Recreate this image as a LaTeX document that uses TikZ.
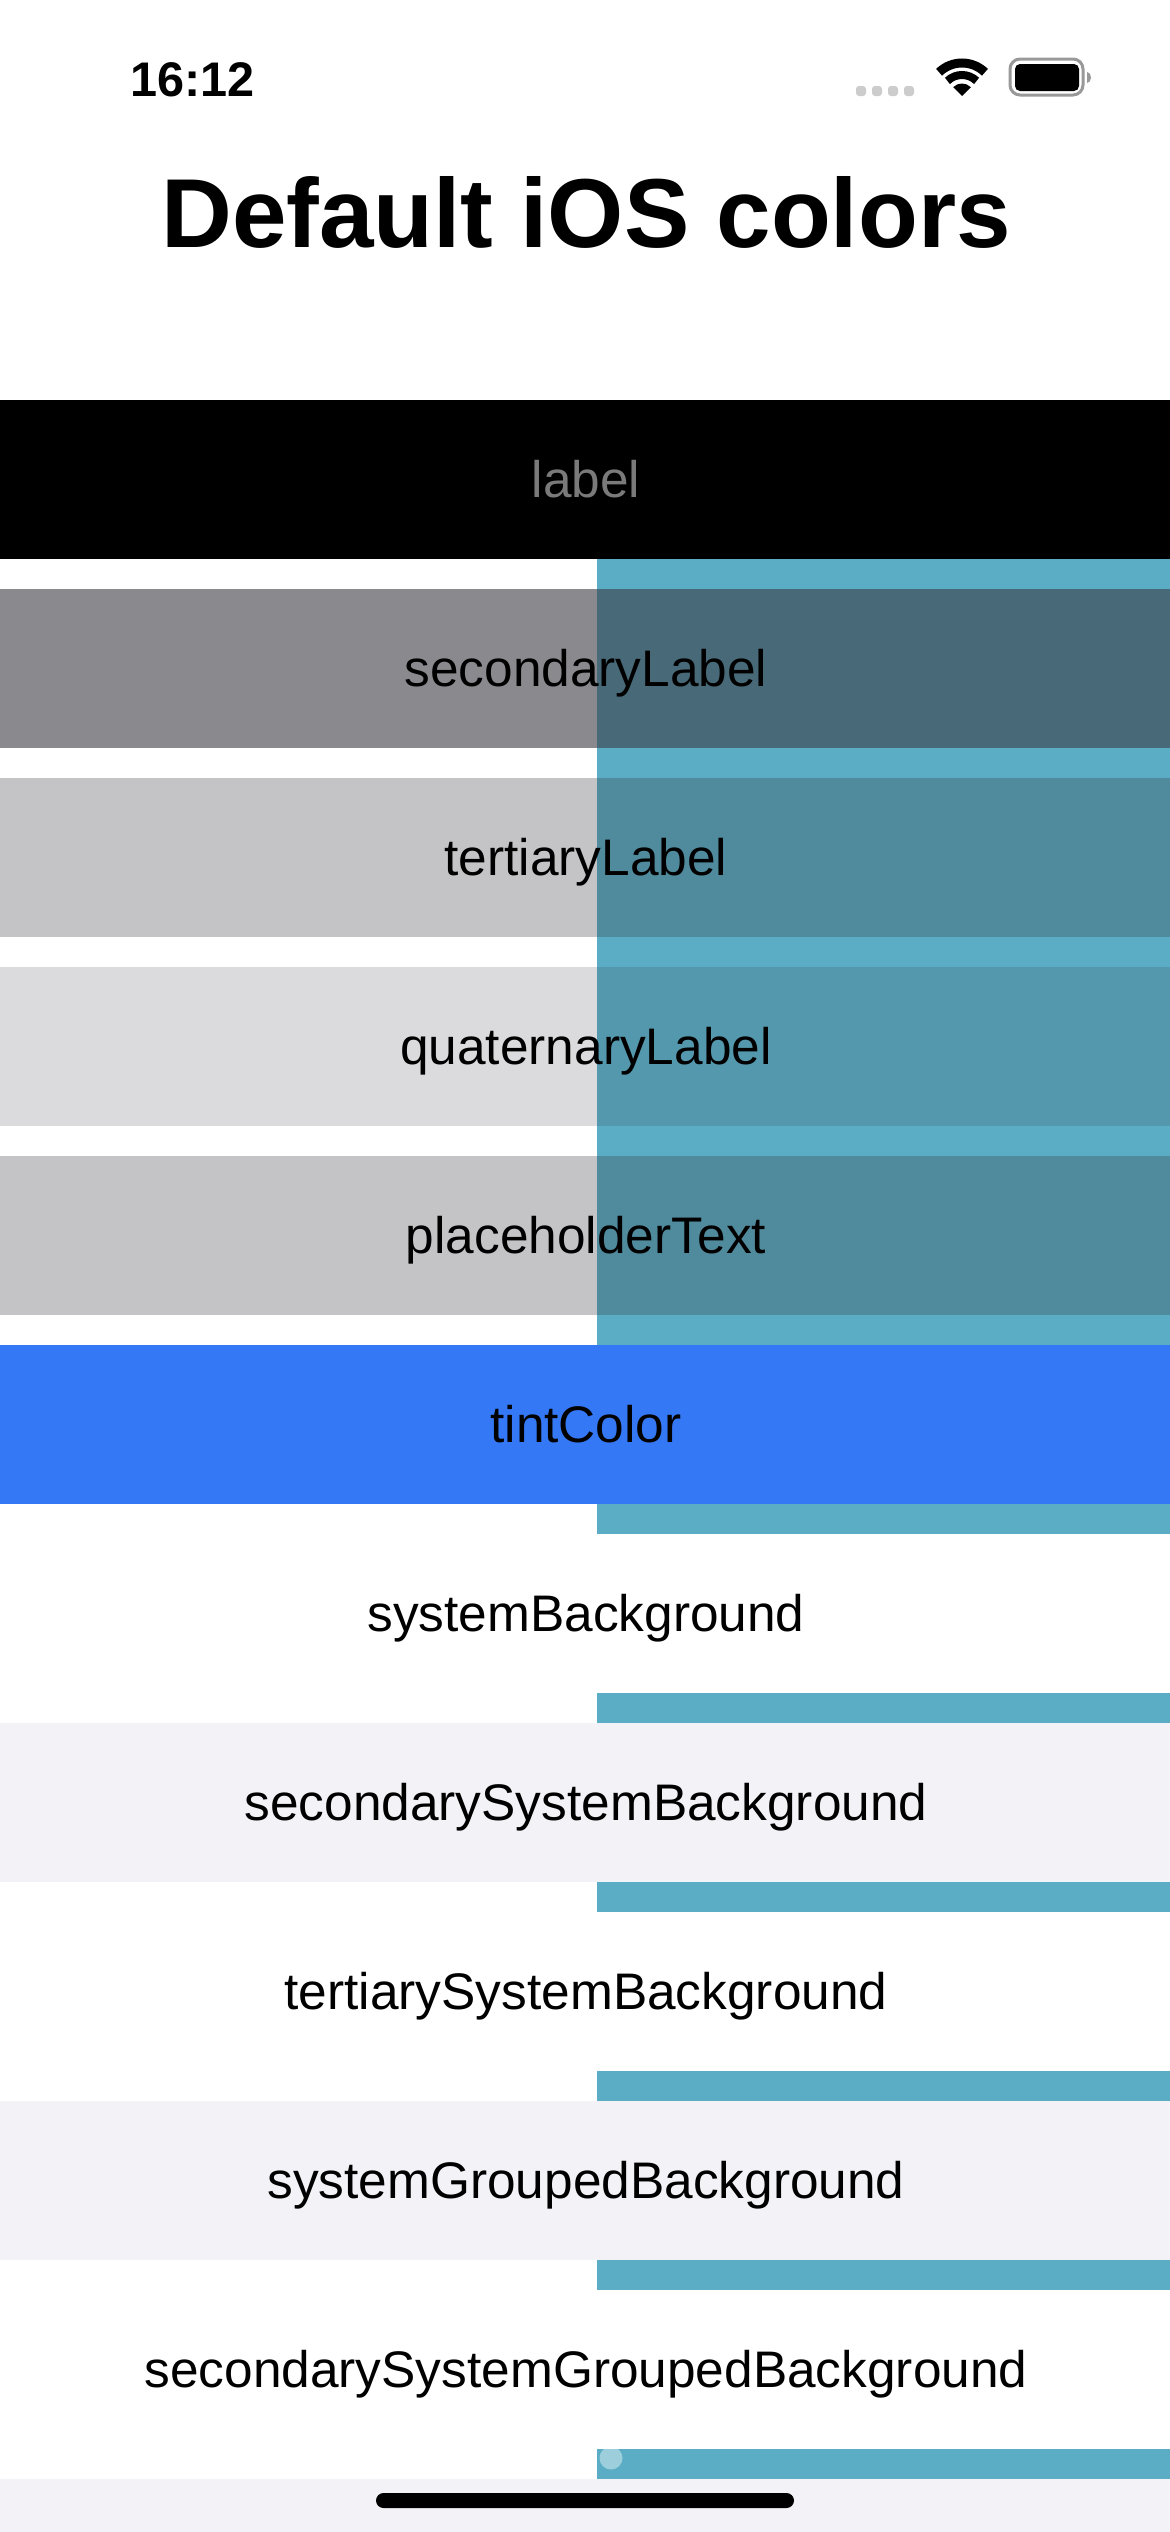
\documentclass[tikz,border=0pt]{standalone}
\usepackage{fontspec}
\setmainfont{Liberation Sans}
\usepackage{xcolor}
\usepackage{tikz}
\definecolor{tealback}{HTML}{5AADC5}
\definecolor{graytext}{HTML}{3C3C43}
\definecolor{tintblue}{HTML}{3478F6}
\definecolor{groupback}{HTML}{F2F2F7}
\definecolor{labelgray}{HTML}{7A7A7A}
\tikzset{
    rowtext/.style={anchor=base, inner sep=0pt, font=\fontsize{25.7}{30}\selectfont},
}

\begin{document}
\begin{tikzpicture}[x=0.5pt, y=-0.5pt]
    \useasboundingbox (0,0) rectangle (1170,2532);
    \fill[white] (0,0) rectangle (1170,2532);
    \fill[tealback] (597,559) rectangle (1170,2479);
    \fill[white!40!tealback] (611,2458) circle[radius=11.5];
    \fill[groupback] (0,2479) rectangle (1170,2532);

    \fill[black] (0,400) rectangle (1170,559);
    \fill[graytext, opacity=0.6] (0,589) rectangle (1170,748);
    \fill[graytext, opacity=0.3] (0,778) rectangle (1170,937);
    \fill[graytext, opacity=0.18] (0,967) rectangle (1170,1126);
    \fill[graytext, opacity=0.3] (0,1156) rectangle (1170,1315);
    \fill[tintblue] (0,1345) rectangle (1170,1504);
    \fill[white] (0,1534) rectangle (1170,1693);
    \fill[groupback] (0,1723) rectangle (1170,1882);
    \fill[white] (0,1882) rectangle (597,1912);
    \fill[white] (0,1912) rectangle (1170,2071);
    \fill[groupback] (0,2101) rectangle (1170,2260);
    \fill[white] (0,2290) rectangle (1170,2449);

    \node[rowtext, text=labelgray] (label) at (586,497) {label};
    \node[rowtext] (secondarylabel) at (586,686) {secondaryLabel};
    \node[rowtext] (tertiarylabel) at (586,875) {tertiaryLabel};
    \node[rowtext] (quaternarylabel) at (586,1064) {quaternaryLabel};
    \node[rowtext] (placeholdertext) at (586,1253) {placeholderText};
    \node[rowtext] (tintcolor) at (586,1442) {tintColor};
    \node[rowtext] (systembackground) at (586,1631) {systemBackground};
    \node[rowtext] (secondarysystem) at (586,1820) {secondarySystemBackground};
    \node[rowtext] (tertiarysystem) at (586,2009) {tertiarySystemBackground};
    \node[rowtext] (groupedsystem) at (586,2198) {systemGroupedBackground};
    \node[rowtext] (secondarygrouped) at (586,2387) {secondarySystemGroupedBackground};

    \node[anchor=base, inner sep=0pt, font=\fontsize{49}{60}\selectfont\bfseries] (title) at (586,247) {Default iOS colors};
    \node[anchor=base west, inner sep=0pt, font=\fontsize{24.3}{30}\selectfont\bfseries] (clock) at (130,96) {16:12};

    % status bar
    \fill[gray!40, rounded corners=1.5pt] (856,86) rectangle (866,96);
    \fill[gray!40, rounded corners=1.5pt] (872,86) rectangle (882,96);
    \fill[gray!40, rounded corners=1.5pt] (888,86) rectangle (898,96);
    \fill[gray!40, rounded corners=1.5pt] (904,86) rectangle (914,96);
    \coordinate (wifi) at (962,96);
    \fill[black] (wifi) -- ++(45:6.25pt) arc (45:135:6.25pt) -- cycle;
    \draw[line width=4pt] (wifi) ++(46:10.5pt) arc (46:134:10.5pt);
    \draw[line width=4.5pt] (wifi) ++(46:16.5pt) arc (46:134:16.5pt);
    \draw[gray!80, line width=1.5pt, rounded corners=5pt] (1010,59) rectangle (1083,95);
    \fill[black, rounded corners=2.5pt] (1015,64) rectangle (1079,91);
    \fill[gray!80] (1087,72) arc (90:-90:2pt and 2.75pt) -- cycle;

    \fill[black, rounded corners=3.75pt] (376,2493) rectangle (794,2508);
\end{tikzpicture}
\end{document}
